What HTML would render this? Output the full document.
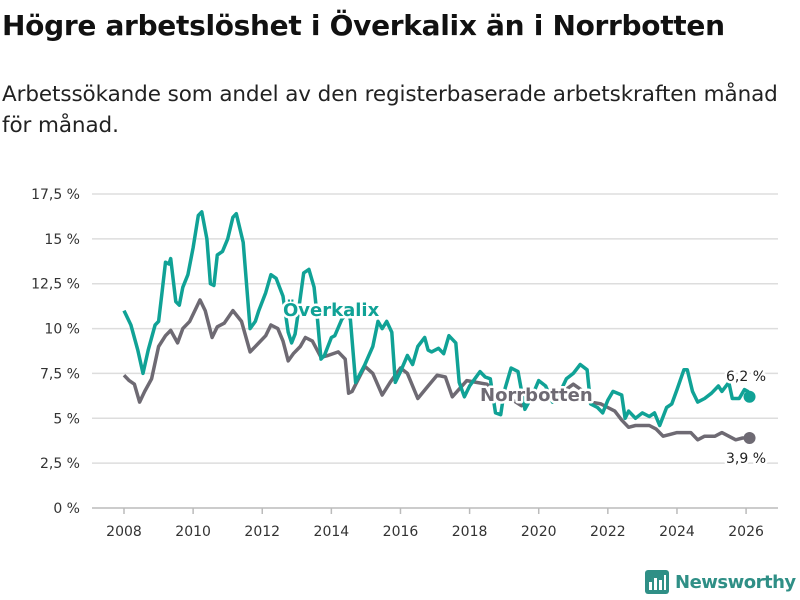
<!DOCTYPE html>
<html><head><meta charset="utf-8"><style>
body{margin:0;width:800px;height:600px;background:#fff;font-family:"Liberation Sans","DejaVu Sans",sans-serif;overflow:hidden;position:relative}
h1{position:absolute;left:2px;top:9px;margin:0;font-size:28px;font-weight:bold;color:#111;font-family:"DejaVu Sans",sans-serif;letter-spacing:-0.3px}
p{position:absolute;left:2px;top:79px;margin:0;font-size:21.5px;line-height:31px;color:#222;font-family:"DejaVu Sans",sans-serif;width:792px;letter-spacing:-0.1px}
svg{position:absolute;left:0;top:0}
</style></head><body>
<h1>Högre arbetslöshet i Överkalix än i Norrbotten</h1>
<p>Arbetssökande som andel av den registerbaserade arbetskraften månad för månad.</p>
<svg id="c" width="800" height="600"></svg>
<script>
const yTicks=[0,2.5,5,7.5,10,12.5,15,17.5];
const yTickLabels=["0 %","2,5 %","5 %","7,5 %","10 %","12,5 %","15 %","17,5 %"];
const xTicks=[2008,2010,2012,2014,2016,2018,2020,2022,2024,2026];
const overkalixYears=[2008.0,2008.2,2008.4,2008.55,2008.7,2008.9,2009.0,2009.1,2009.2,2009.3,2009.35,2009.5,2009.6,2009.7,2009.85,2010.0,2010.15,2010.25,2010.4,2010.5,2010.6,2010.7,2010.85,2011.0,2011.15,2011.25,2011.45,2011.65,2011.8,2011.9,2012.1,2012.25,2012.4,2012.6,2012.75,2012.85,2012.95,2013.05,2013.2,2013.35,2013.5,2013.6,2013.7,2013.8,2014.0,2014.1,2014.3,2014.45,2014.55,2014.7,2014.97,2015.2,2015.35,2015.47,2015.6,2015.75,2015.85,2016.0,2016.2,2016.35,2016.5,2016.7,2016.8,2016.9,2017.1,2017.25,2017.4,2017.6,2017.7,2017.85,2018.0,2018.15,2018.3,2018.45,2018.6,2018.75,2018.9,2019.0,2019.2,2019.4,2019.6,2019.8,2020.0,2020.2,2020.4,2020.6,2020.8,2021.0,2021.2,2021.4,2021.5,2021.7,2021.85,2022.0,2022.15,2022.4,2022.5,2022.6,2022.8,2023.0,2023.2,2023.35,2023.5,2023.7,2023.85,2024.0,2024.2,2024.3,2024.45,2024.6,2024.8,2025.0,2025.2,2025.3,2025.5,2025.6,2025.8,2025.95,2026.05,2026.1];
const overkalixValues=[11.0,10.2,8.8,7.5,8.8,10.2,10.4,12.0,13.7,13.6,13.9,11.5,11.3,12.3,13.0,14.5,16.3,16.5,15.0,12.5,12.4,14.1,14.3,15.0,16.2,16.4,14.8,10.0,10.4,11.0,12.0,13.0,12.8,11.8,9.8,9.2,9.7,11.0,13.1,13.3,12.3,10.5,8.3,8.5,9.5,9.6,10.5,10.9,10.5,7.0,8.0,9.0,10.4,10.0,10.4,9.8,7.0,7.6,8.5,8.0,9.0,9.5,8.8,8.7,8.9,8.6,9.6,9.2,7.0,6.2,6.8,7.2,7.6,7.3,7.2,5.3,5.2,6.5,7.8,7.6,5.5,6.2,7.1,6.8,5.9,6.4,7.2,7.5,8.0,7.7,5.8,5.6,5.3,6.0,6.5,6.3,5.0,5.4,5.0,5.3,5.1,5.3,4.6,5.6,5.8,6.6,7.7,7.7,6.5,5.9,6.1,6.4,6.8,6.5,7.0,6.1,6.1,6.6,6.5,6.2];
const norrbottenYears=[2008.0,2008.15,2008.3,2008.45,2008.6,2008.8,2009.0,2009.2,2009.35,2009.55,2009.7,2009.9,2010.1,2010.2,2010.35,2010.55,2010.7,2010.9,2011.15,2011.4,2011.65,2011.9,2012.1,2012.25,2012.45,2012.6,2012.75,2012.9,2013.1,2013.25,2013.45,2013.7,2013.9,2014.2,2014.4,2014.5,2014.6,2014.97,2015.2,2015.47,2015.7,2016.0,2016.2,2016.5,2016.8,2017.06,2017.3,2017.5,2017.92,2018.2,2018.5,2018.8,2019.1,2019.5,2020.0,2020.5,2021.0,2021.3,2021.5,2021.8,2022.0,2022.2,2022.4,2022.6,2022.8,2023.0,2023.2,2023.4,2023.6,2023.8,2024.0,2024.4,2024.6,2024.8,2025.1,2025.3,2025.5,2025.7,2025.9,2026.1];
const norrbottenValues=[7.4,7.1,6.9,5.9,6.5,7.2,9.0,9.6,9.9,9.2,10.0,10.4,11.2,11.6,11.0,9.5,10.1,10.3,11.0,10.4,8.7,9.2,9.6,10.2,10.0,9.3,8.2,8.6,9.0,9.5,9.3,8.4,8.5,8.7,8.3,6.4,6.5,7.9,7.5,6.3,7.0,7.8,7.5,6.1,6.8,7.4,7.3,6.2,7.1,7.0,6.9,6.4,6.2,5.7,6.3,6.2,6.9,6.5,5.9,5.8,5.6,5.4,4.9,4.5,4.6,4.6,4.6,4.4,4.0,4.1,4.2,4.2,3.8,4.0,4.0,4.2,4.0,3.8,3.9,3.9];
const NS="http://www.w3.org/2000/svg",svg=document.getElementById('c');
const x=v=>124+(v-2008)*34.56, y=v=>508-v*17.943;
function mk(t,a,p){const e=document.createElementNS(NS,t);for(const k in a)e.setAttribute(k,a[k]);(p||svg).appendChild(e);return e;}
yTicks.forEach((t,i)=>{
 const l=mk('line',{x1:92,x2:778,y1:y(t),y2:y(t),stroke:i==0?'#bbb':'#ddd','stroke-width':1.5});
 
 
 const tx=mk('text',{x:80,y:y(t)+5,'text-anchor':'end','font-size':14,fill:'#333','font-family':'DejaVu Sans,sans-serif'});
 tx.textContent=yTickLabels[i];
 
 
});
xTicks.forEach(t=>{
 const l=mk('line',{x1:x(t),x2:x(t),y1:508,y2:514,stroke:'#bbb','stroke-width':1.5});
 
 
 const tx=mk('text',{x:x(t),y:536,'text-anchor':'middle','font-size':14,fill:'#333','font-family':'DejaVu Sans,sans-serif'});
 tx.textContent=t;
 
 
});
function line(xs,vs,col,name){
 const d=xs.map((a,i)=>(i?'L':'M')+x(a).toFixed(1)+','+y(vs[i]).toFixed(1)).join('');
 const p=mk('path',{d:d,fill:'none',stroke:col,'stroke-width':3.5,'stroke-linejoin':'round'});
 
 
 const c=mk('circle',{cx:x(xs[xs.length-1]),cy:y(vs[vs.length-1]),r:6,fill:col});
 
 
}
line(norrbottenYears,norrbottenValues,'#6e6a73','norrbotten');
line(overkalixYears,overkalixValues,'#10a296','overkalix');
function lab(t,xx,yy,col,name,sz,bold,anchor){
 const a={x:xx,y:yy,'font-size':sz,fill:col,'font-family':'DejaVu Sans,sans-serif','font-weight':bold?'bold':'normal','text-anchor':anchor||'start',stroke:'#fff','stroke-width':5,'paint-order':'stroke','stroke-linejoin':'round'};
 const e=mk('text',a);e.textContent=t;
 
 
}
lab('Överkalix',283,316,'#10a296','overkalix-label',18,true);
lab('Norrbotten',480,401,'#6e6a73','norrbotten-label',18,true);
lab('6,2 %',746,381,'#222','overkalix-end-value',14,false,'middle');
lab('3,9 %',746,463,'#222','norrbotten-end-value',14,false,'middle');
</script>
<div style="position:absolute;left:645px;top:569px;height:26px;display:flex;align-items:center">
<svg width="24" height="24" style="position:static"><rect x="0" y="0" width="24" height="24" rx="3" fill="#2f8f86"/><rect x="4" y="12" width="3" height="8" fill="#fff"/><rect x="9" y="8" width="3" height="12" fill="#fff"/><rect x="14" y="10" width="3" height="10" fill="#fff"/><rect x="19" y="5" width="2" height="15" fill="#fff"/></svg>
<span style="margin-left:6px;font-size:18px;font-weight:bold;color:#2f8f86;font-family:'DejaVu Sans',sans-serif;letter-spacing:-0.5px">Newsworthy</span></div>
</body></html>
